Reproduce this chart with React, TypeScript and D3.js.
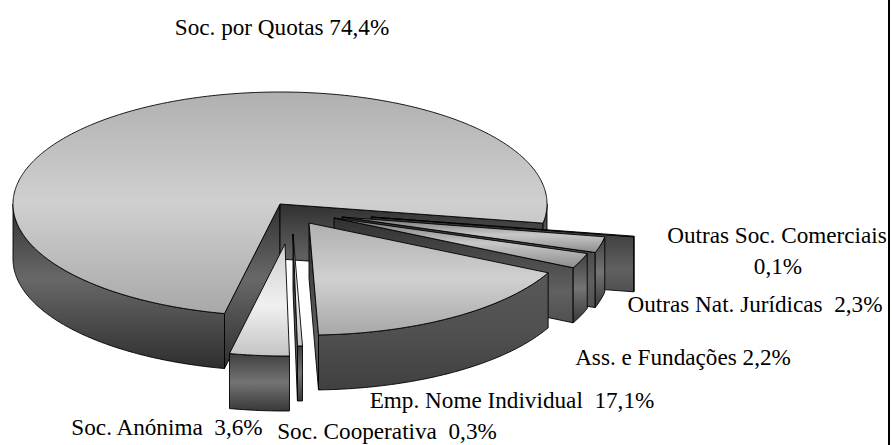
import React from "react";
import * as d3 from "d3";

const categories = ["Soc. por Quotas", "Outras Soc. Comerciais", "Outras Nat. Jurídicas", "Ass. e Fundações", "Emp. Nome Individual", "Soc. Cooperativa", "Soc. Anónima"];
const shares = [74.4, 0.1, 2.3, 2.2, 17.1, 0.3, 3.6];
const shareLabels = ["74,4%", "0,1%", "2,3%", "2,2%", "17,1%", "0,3%", "3,6%"];

// layout
const rx = 267, ry = 112, depth = 55;
const tips: [number, number][] = [[280, 204], [371, 217], [342, 217], [334, 218], [309, 223], [293, 234], [285, 244]];
const faceGrad = ["faceMain", "faceMid", "faceMid", "faceMid", "faceMain", "faceAn", "faceAn"];
const wallGrad = ["wallMain", "wallBand", "wallBand", "wallBand", "wallEmp", "wallBand", "wallBand"];
const drawOrder = [0, 1, 2, 3, 5, 6, 4];
const labelRows = [
  { text: "Soc. por Quotas 74,4%", x: 282, y: 35 },
  { text: "Outras Soc. Comerciais", x: 777, y: 243 },
  { text: "0,1%", x: 778, y: 274 },
  { text: "Outras Nat. Jurídicas  2,3%", x: 755, y: 312 },
  { text: "Ass. e Fundações 2,2%", x: 683, y: 365 },
  { text: "Emp. Nome Individual  17,1%", x: 512, y: 408 },
  { text: "Soc. Anónima  3,6%", x: 167, y: 435 },
  { text: "Soc. Cooperativa  0,3%", x: 387, y: 439 },
];

const TAU = Math.PI * 2;
const pie = d3.pie<number>().sort(null).startAngle((192 / 360) * TAU).endAngle((192 / 360) * TAU + TAU);
const arcs = pie(shares);
const line = d3.line<[number, number]>().x((d) => d[0]).y((d) => d[1]);
const sampleAngles = (a0: number, a1: number) => {
  const n = Math.max(2, Math.ceil(Math.abs(a1 - a0) / 0.01));
  return d3.range(n + 1).map((i) => a0 + ((a1 - a0) * i) / n);
};
const rim = (t: [number, number], a: number, dz = 0): [number, number] => [t[0] + rx * Math.sin(a), t[1] - ry * Math.cos(a) + dz];

function Slice({ i }: { i: number }) {
  const arc = arcs[i];
  const t = tips[i];
  const a0 = arc.startAngle, a1 = arc.endAngle;
  const top = line([t, ...sampleAngles(a0, a1).map((a) => rim(t, a)), t])! + "Z";
  const walls: React.ReactNode[] = [];
  const radialWall = (a: number) =>
    line([t, rim(t, a), rim(t, a, depth), [t[0], t[1] + depth], t])! + "Z";
  // screen direction of radial edges decides which cut faces are seen
  const startVisible = Math.sin(a0) < 0;
  const endVisible = Math.sin(a1) > 0;
  if (startVisible) walls.push(<path key="s" d={radialWall(a0)} fill="url(#wallMain)" stroke="#000" strokeWidth={0.9} />);
  if (endVisible) walls.push(<path key="e" d={radialWall(a1)} fill="url(#wallCut)" stroke="#000" strokeWidth={0.9} />);
  // front outer wall: d3 angle between 90deg and 270deg (mod 360)
  const segs: [number, number][] = [];
  for (let k = -1; k <= 1; k++) {
    const lo = Math.max(a0, Math.PI / 2 + k * TAU), hi = Math.min(a1, (3 * Math.PI) / 2 + k * TAU);
    if (hi > lo) segs.push([lo, hi]);
  }
  segs.forEach(([lo, hi], k) => {
    const as = sampleAngles(lo, hi);
    const pts = [...as.map((a) => rim(t, a)), ...as.slice().reverse().map((a) => rim(t, a, depth))];
    walls.push(<path key={"o" + k} d={line(pts)! + "Z"} fill={`url(#${wallGrad[i]})`} stroke="#000" strokeWidth={0.9} />);
  });
  return (
    <g>
      {walls}
      <path d={top} fill={`url(#${faceGrad[i]})`} stroke="#000" strokeWidth={0.9} />
    </g>
  );
}

const stops = (id: string, s: [number, string][]) => (
  <linearGradient id={id} x1="0" y1="0" x2="0" y2="1">
    {s.map(([o, c]) => <stop key={o} offset={o} stopColor={c} />)}
  </linearGradient>
);

export default function App() {
  return (
    <svg width={892} height={445} style={{ position: "absolute", left: 0, top: 0, background: "#fff" }}>
      <defs>
        {stops("faceMain", [[0, "#b0b0b0"], [0.5, "#d0d0d0"], [1, "#a8a8a8"]])}
        {stops("faceMid", [[0, "#707070"], [0.5, "#c8c8c8"], [1, "#8c8c8c"]])}
        {stops("faceAn", [[0, "#d0d0d0"], [0.55, "#f0f0f0"], [1, "#c4c4c4"]])}
        {stops("wallMain", [[0, "#303030"], [0.45, "#686868"], [1, "#2e2e2e"]])}
        {stops("wallEmp", [[0, "#585858"], [0.5, "#505050"], [1, "#404040"]])}
        {stops("wallBand", [[0, "#404040"], [0.5, "#747474"], [1, "#383838"]])}
        {stops("wallCut", [[0, "#303030"], [0.7, "#606060"], [1, "#505050"]])}
      </defs>
      {drawOrder.map((i) => <Slice key={categories[i]} i={i} />)}
      <g fontFamily="'Liberation Serif', serif" fontSize={23.2} fill="#000" textAnchor="middle">
        {labelRows.map((r) => <text key={r.text} x={r.x} y={r.y} style={{ whiteSpace: "pre" }}>{r.text}</text>)}
      </g>
      <rect x={888} y={0} width={2} height={445} fill="#000" />
    </svg>
  );
}
